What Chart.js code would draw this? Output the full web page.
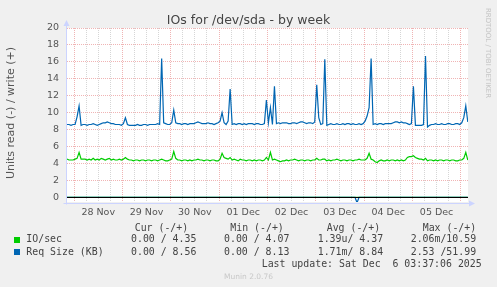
<!DOCTYPE html>
<html>
<head>
<meta charset="utf-8">
<script src="https://cdn.jsdelivr.net/npm/chart.js@4/dist/chart.umd.min.js"></script>
<style>
body{margin:0;background:#f0f0f0;width:497px;height:287px;overflow:hidden;position:relative;font-family:"DejaVu Sans",sans-serif}
#ioChart{position:absolute;left:0;top:0}
.t{position:absolute;white-space:pre;color:#555;line-height:12px}
.m{font-family:"DejaVu Sans Mono",monospace;font-size:9.9px;color:#444}
.sq{position:absolute;width:6px;height:6px}
</style>
</head>
<body>
<canvas id="ioChart" width="497" height="287"></canvas>

<div class="t" style="left:0;width:497px;text-align:center;top:12.5px;font-size:12.5px;line-height:14px;color:#444">IOs for /dev/sda - by week</div>
<div class="t" style="left:-89px;width:200px;text-align:center;top:107px;font-size:11px;transform:rotate(-90deg)">Units read (-) / write (+)</div>
<div class="t" style="left:428px;width:120px;text-align:center;top:47px;font-size:7px;color:#c4c4c4;transform:rotate(90deg)">RRDTOOL / TOBI OETIKER</div>

<div class="t m" style="left:134.7px;top:221.5px">Cur (-/+)</div>
<div class="t m" style="left:230.3px;top:221.5px">Min (-/+)</div>
<div class="t m" style="left:326.7px;top:221.5px">Avg (-/+)</div>
<div class="t m" style="left:422.7px;top:221.5px">Max (-/+)</div>

<div class="sq" style="left:14px;top:236.5px;background:#00cc00"></div>
<div class="t m" style="left:26.3px;top:233.3px">IO/sec</div>
<div class="t m" style="left:131px;top:233.3px">0.00 / 4.35</div>
<div class="t m" style="left:224px;top:233.3px">0.00 / 4.07</div>
<div class="t m" style="left:317.7px;top:233.3px">1.39u/ 4.37</div>
<div class="t m" style="left:410.7px;top:233.3px">2.06m/10.59</div>

<div class="sq" style="left:14px;top:249px;background:#0066b3"></div>
<div class="t m" style="left:26.3px;top:245.7px">Req Size (KB)</div>
<div class="t m" style="left:131px;top:245.7px">0.00 / 8.56</div>
<div class="t m" style="left:224px;top:245.7px">0.00 / 8.13</div>
<div class="t m" style="left:317.7px;top:245.7px">1.71m/ 8.84</div>
<div class="t m" style="left:410.7px;top:245.7px">2.53 /51.99</div>

<div class="t m" style="left:261.7px;top:257.7px">Last update: Sat Dec  6 03:37:06 2025</div>
<div class="t" style="left:0;width:497px;text-align:center;top:270.5px;font-size:7.5px;color:#c8c8c8">Munin 2.0.76</div>

<script>
// one sample per hour, hour 0 = 27 Nov 20:30
const firstMidnight = 3.5
const lastHour = 199.1

const dayLabels = ["28 Nov","29 Nov","30 Nov","01 Dec","02 Dec","03 Dec","04 Dec","05 Dec"]

// write side (+)
const ioWrite = [
4.5,4.4,4.4,4.4,4.5,4.6,5.3,4.5,4.5,4.5,
4.4,4.5,4.4,4.6,4.4,4.5,4.4,4.6,4.5,4.4,
4.5,4.6,4.4,4.5,4.4,4.4,4.5,4.4,4.5,4.7,
4.5,4.4,4.4,4.3,4.4,4.4,4.3,4.4,4.4,4.3,
4.4,4.4,4.3,4.4,4.4,4.3,4.4,4.5,4.4,4.3,
4.3,4.4,4.5,5.4,4.6,4.4,4.4,4.3,4.4,4.4,
4.3,4.4,4.3,4.4,4.4,4.5,4.4,4.4,4.3,4.4,
4.4,4.3,4.4,4.4,4.3,4.3,4.5,5.2,4.7,4.6,
4.5,4.7,4.4,4.5,4.4,4.3,4.5,4.4,4.4,4.3,
4.4,4.4,4.3,4.4,4.3,4.4,4.4,4.3,4.4,4.7,
4.4,5.3,4.4,4.5,4.4,4.3,4.2,4.3,4.3,4.4,
4.3,4.4,4.4,4.5,4.4,4.3,4.4,4.4,4.3,4.4,
4.4,4.3,4.4,4.4,4.6,4.4,4.4,4.5,4.5,4.3,
4.4,4.3,4.4,4.4,4.5,4.4,4.3,4.4,4.4,4.3,
4.4,4.4,4.3,4.4,4.4,4.5,4.4,4.4,4.4,4.6,
5.2,4.5,4.4,4.2,4.1,4.3,4.4,4.3,4.3,4.4,
4.3,4.4,4.4,4.3,4.4,4.3,4.4,4.3,4.4,4.7,
4.8,4.8,4.9,4.7,4.6,4.5,4.5,4.4,4.6,4.3,
4.4,4.4,4.3,4.4,4.3,4.4,4.4,4.3,4.4,4.4,
4.3,4.4,4.4,4.3,4.3,4.4,4.4,4.6,5.3,4.4
]

const reqWrite = [
8.6,8.6,8.5,8.6,8.6,9.5,10.8,8.5,8.6,8.6,
8.5,8.6,8.6,8.7,8.6,8.5,8.6,8.7,8.8,8.8,
8.9,8.8,8.7,8.7,8.6,8.6,8.6,8.5,8.7,9.4,
8.6,8.5,8.5,8.5,8.5,8.6,8.5,8.5,8.6,8.6,
8.5,8.6,8.6,8.6,8.6,8.7,8.6,16.4,8.8,8.7,
8.6,8.6,8.8,10.3,8.8,8.7,8.7,8.6,8.7,8.7,
8.6,8.7,8.7,8.7,8.8,8.9,8.8,8.7,8.7,8.7,
8.8,8.7,8.7,8.6,8.7,8.8,9.0,10.0,8.8,8.6,
9.0,12.8,8.6,8.7,8.6,8.7,8.7,8.6,8.7,8.6,
8.7,8.7,8.7,8.6,8.7,8.7,8.6,8.6,8.7,11.5,
8.8,10.6,8.6,13.1,8.7,8.8,8.7,8.8,8.8,8.8,
8.7,8.7,8.8,8.8,8.7,8.8,8.9,8.9,8.8,8.7,
8.8,8.8,8.7,8.9,13.3,9.4,8.6,8.7,16.3,8.5,
8.6,8.7,8.6,8.6,8.7,8.6,8.6,8.7,8.6,8.7,
8.7,8.6,8.7,8.6,8.6,8.7,8.6,8.7,9.0,9.6,
10.6,16.4,8.6,8.7,8.6,8.7,8.7,8.6,8.7,8.7,
8.7,8.7,8.8,8.9,8.9,8.8,8.9,8.8,8.8,8.7,
8.6,8.7,13.1,8.5,8.5,8.5,8.5,8.6,16.7,8.3,
8.5,8.6,8.6,8.7,8.6,8.6,8.7,8.6,8.6,8.7,
8.7,8.6,8.6,8.7,8.7,8.6,8.8,9.4,10.8,8.9
]

// read side (-), graphed below zero
const ioRead = [
0,0,0,0,0,0,0,0,0,0, 0,0,0,0,0,0,0,0,0,0,
0,0,0,0,0,0,0,0,0,0, 0,0,0,0,0,0,0,0,0,0,
0,0,0,0,0,0,0,0,0,0, 0,0,0,0,0,0,0,0,0,0,
0,0,0,0,0,0,0,0,0,0, 0,0,0,0,0,0,0,0,0,0,
0,0,0,0,0,0,0,0,0,0, 0,0,0,0,0,0,0,0,0,0,
0,0,0,0,0,0,0,0,0,0, 0,0,0,0,0,0,0,0,0,0,
0,0,0,0,0,0,0,0,0,0, 0,0,0,0,0,0,0,0,0,0,
0,0,0,0,0,0,0,0,0,0, 0,0,0,0,0,0,0,0,0,0,
0,0,0,0,0,0,0,0,0,0, 0,0,0,0,0,0,0,0,0,0,
0,0,0,0,0,0,0,0,0,0, 0,0,0,0,0,0,0,0,0,0
]

const reqRead = [
0,0,0,0,0,0,0,0,0,0, 0,0,0,0,0,0,0,0,0,0,
0,0,0,0,0,0,0,0,0,0, 0,0,0,0,0,0,0,0,0,0,
0,0,0,0,0,0,0,0,0,0, 0,0,0,0,0,0,0,0,0,0,
0,0,0,0,0,0,0,0,0,0, 0,0,0,0,0,0,0,0,0,0,
0,0,0,0,0,0,0,0,0,0, 0,0,0,0,0,0,0,0,0,0,
0,0,0,0,0,0,0,0,0,0, 0,0,0,0,0,0,0,0,0,0,
0,0,0,0,0,0,0,0,0,0, 0,0,0,0,0,0,0,0,0,0,
0,0,0,0,0.65,0,0,0,0,0, 0,0,0,0,0,0,0,0,0,0,
0,0,0,0,0,0,0,0,0,0, 0,0,0,0,0,0,0,0,0,0,
0,0,0,0,0,0,0,0,0,0, 0,0,0,0,0,0,0,0,0,0
]

const green = "#00cc00"
const blue = "#0066b3"
const majorGrid = "#f0b4b4"
const minorGrid = "#d6d6d6"
const axisBlue = "#ccd4ff"

function pts(arr, sign){
  return arr.map((v,i) => ({x:i, y:sign*v}))
}

function line(label, arr, sign, color){
  return {label:label, data:pts(arr,sign), borderColor:color, borderWidth:1.2,
    pointRadius:0, tension:0, fill:false}
}

const munin = {
  id:"munin",
  beforeDraw(c){
    const a = c.chartArea, ctx = c.ctx
    ctx.save()
    ctx.fillStyle = "#ffffff"
    ctx.fillRect(a.left, a.top, a.right-a.left, a.bottom-a.top)
    ctx.restore()
  },
  afterDatasetsDraw(c){
    const a = c.chartArea, ctx = c.ctx
    const y0 = Math.round(c.scales.y.getPixelForValue(0)) + 0.5
    ctx.save()
    ctx.strokeStyle = "#000"
    ctx.lineWidth = 1
    ctx.beginPath(); ctx.moveTo(a.left, y0); ctx.lineTo(a.right, y0); ctx.stroke()

    // axes with arrows
    ctx.strokeStyle = axisBlue
    ctx.fillStyle = axisBlue
    const xl = a.left - 0.5, yb = a.bottom + 1.5
    ctx.beginPath(); ctx.moveTo(xl, yb + 1); ctx.lineTo(xl, a.top - 4); ctx.stroke()
    ctx.beginPath(); ctx.moveTo(xl - 3, a.top - 2); ctx.lineTo(xl + 3, a.top - 2); ctx.lineTo(xl, a.top - 8); ctx.fill()
    ctx.beginPath(); ctx.moveTo(xl - 3, yb); ctx.lineTo(a.right + 2, yb); ctx.stroke()
    ctx.beginPath(); ctx.moveTo(a.right + 1, yb - 3); ctx.lineTo(a.right + 1, yb + 3); ctx.lineTo(a.right + 7, yb); ctx.fill()
    ctx.restore()
  }
}

function createChart(){

const ctx = document.getElementById("ioChart")

new Chart(ctx,{
  type:"line",
  data:{
    datasets:[
      line("Req Size read", reqRead, -1, blue),
      line("IO/sec read", ioRead, -1, green),
      line("Req Size (KB)", reqWrite, 1, blue),
      line("IO/sec", ioWrite, 1, green)
    ]
  },
  options:{
    responsive:false,
    animation:false,
    layout:{padding:{left:0, right:29, top:28, bottom:0}},
    plugins:{legend:{display:false}, tooltip:{enabled:false}},
    scales:{
      x:{
        type:"linear",
        min:0,
        max:lastHour,
        afterFit(s){ s.height = 85 },
        afterBuildTicks(s){
          const t = []
          for(let h = firstMidnight; h <= lastHour; h += 6) t.push({value:h})
          s.ticks = t
        },
        ticks:{
          autoSkip:false, maxRotation:0, padding:5, color:"#555",
          font:{family:"DejaVu Sans", size:9.5},
          callback(v){
            const k = (v - firstMidnight - 12) / 24
            return Number.isInteger(k) ? dayLabels[k] : ""
          }
        },
        grid:{
          drawTicks:false,
          color(c){ return ((c.tick.value - firstMidnight) % 24 === 0) ? majorGrid : minorGrid }
        },
        border:{display:false, dash:[1,1]}
      },
      y:{
        min:-0.56,
        max:20,
        afterFit(s){ s.width = 67 },
        afterBuildTicks(s){
          const t = []
          for(let v = 0; v <= 20; v++) t.push({value:v})
          s.ticks = t
        },
        ticks:{
          padding:8, color:"#555",
          font:{family:"DejaVu Sans", size:9.5},
          callback(v){ return v % 2 === 0 ? String(v) : "" }
        },
        grid:{
          drawTicks:false,
          color(c){ return c.tick.value % 2 === 0 ? majorGrid : minorGrid }
        },
        border:{display:false, dash:[1,1]}
      }
    }
  },
  plugins:[munin]
})

}

createChart()
</script>
</body>
</html>
